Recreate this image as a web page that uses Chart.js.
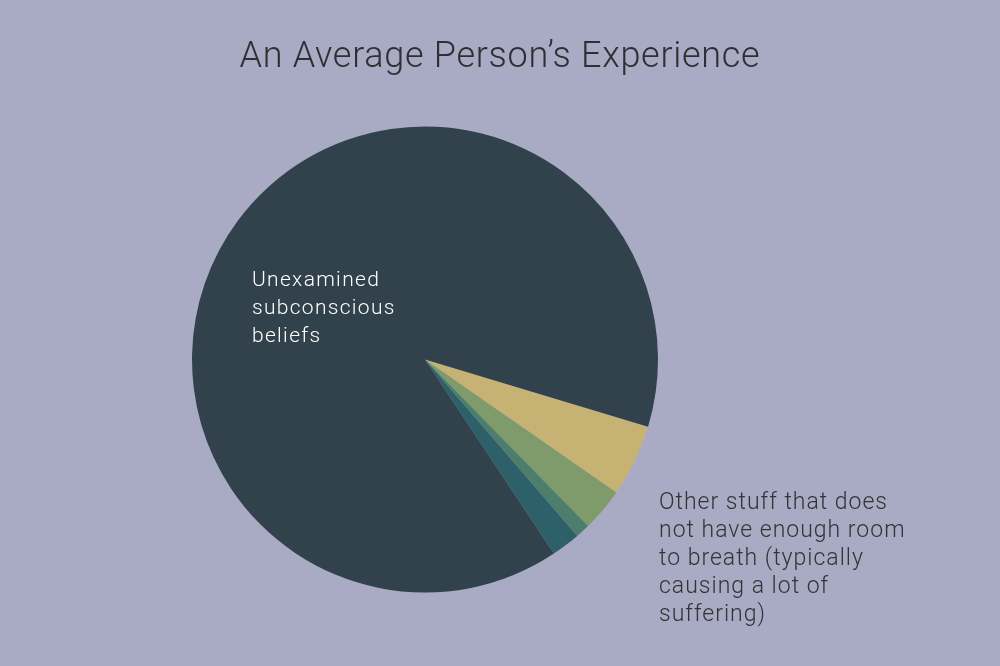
<!DOCTYPE html>
<html>
<head>
<meta charset="utf-8">
<script src="https://cdn.jsdelivr.net/npm/chart.js@4/dist/chart.umd.min.js"></script>
<style>
  html, body { margin: 0; padding: 0; background: #a9abc4; }
  #wrap { width: 1000px; height: 666px; }
</style>
</head>
<body>
<div id="wrap"><canvas id="c" width="1000" height="666"></canvas></div>
<script>
const titleText = "An Average Person\u2019s Experience";
const categories = ["Slice A", "Slice B", "Slice C", "Slice D", "Unexamined subconscious beliefs"];
const shareValues = [5, 3, 1, 2, 89];
const sliceColors = ["#c6b374", "#809b6b", "#4c7e6b", "#2d6068", "#32424c"];
const innerLabelLines = ["Unexamined", "subconscious", "beliefs"];
const outerLabelLines = ["Other stuff that does", "not have enough room", "to breath (typically", "causing a lot of", "suffering)"];

const textPlugin = {
  id: 'texts',
  beforeDraw(chart) {
    const ctx = chart.ctx;
    ctx.save();
    ctx.fillStyle = '#a9abc4';
    ctx.fillRect(0, 0, chart.width, chart.height);
    ctx.restore();
  },
  afterDraw(chart) {
    const ctx = chart.ctx;
    ctx.save();
    ctx.textBaseline = 'alphabetic';
    // title
    ctx.fillStyle = '#2f2f33';
    ctx.font = '300 36px Roboto, "Liberation Sans", sans-serif';
    ctx.letterSpacing = '0.7px';
    ctx.textAlign = 'left';
    const tw = ctx.measureText(titleText).width;
    ctx.fillText(titleText, 500 - tw / 2, 67);
    // inner label
    ctx.fillStyle = '#ffffff';
    ctx.font = '300 21px Roboto, "Liberation Sans", sans-serif';
    ctx.letterSpacing = '1.3px';
    innerLabelLines.forEach((t, i) => ctx.fillText(t, 252, 286 + i * 28));
    // outer label
    ctx.fillStyle = '#333336';
    ctx.font = '300 23px Roboto, "Liberation Sans", sans-serif';
    ctx.letterSpacing = '1px';
    outerLabelLines.forEach((t, i) => ctx.fillText(t, 659, 509 + i * 28));
    ctx.restore();
  }
};

new Chart(document.getElementById('c'), {
  type: 'pie',
  data: {
    labels: categories,
    datasets: [{
      data: shareValues,
      backgroundColor: sliceColors,
      borderWidth: 0
    }]
  },
  options: {
    responsive: false,
    animation: false,
    rotation: 106.8,
    layout: { padding: { left: 192, right: 342, top: 126, bottom: 73 } },
    plugins: {
      legend: { display: false },
      title: { display: false },
      tooltip: { enabled: false }
    }
  },
  plugins: [textPlugin]
});
</script>
</body>
</html>
